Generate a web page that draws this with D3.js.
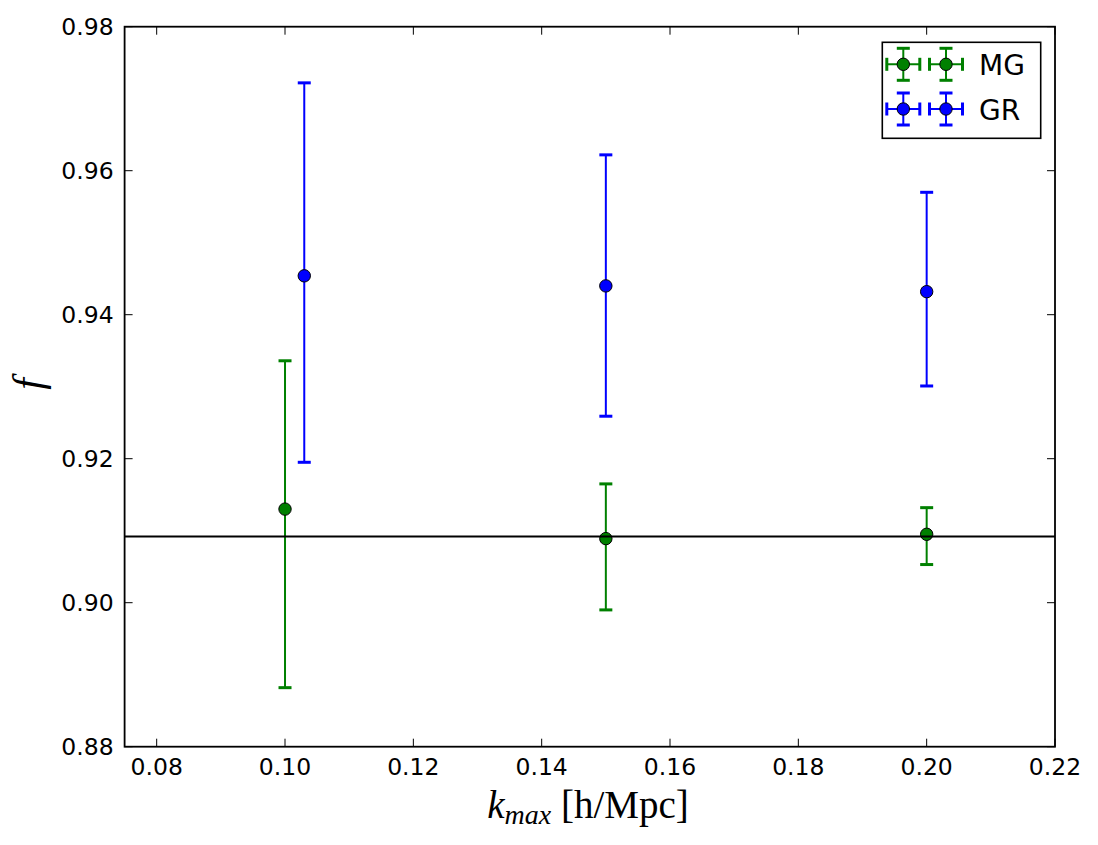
<!DOCTYPE html>
<html>
<head>
<meta charset="utf-8">
<script src="https://cdn.jsdelivr.net/npm/d3@7"></script>
<style>
  body { margin: 0; background: #fff; }
  svg { display: block; }
  .tick-label { font-family: "DejaVu Sans", sans-serif; font-size: 23.5px; fill: #000; }
</style>
</head>
<body>
<div id="main"></div>
<script>

var width = 1098,
    height = 845;

// data
var kmax_mg = [0.10, 0.15, 0.20];
var f_mg    = [0.9130, 0.9089, 0.9095];
var lo_mg   = [0.8882, 0.8990, 0.9053];
var hi_mg   = [0.9336, 0.9165, 0.9132];

var kmax_gr = [0.103, 0.15, 0.20];
var f_gr    = [0.9454, 0.9440, 0.9432];
var lo_gr   = [0.9195, 0.9259, 0.9301];
var hi_gr   = [0.9722, 0.9622, 0.9570];

var f_fid = 0.9092;

var xTicks = [0.08, 0.10, 0.12, 0.14, 0.16, 0.18, 0.20, 0.22];
var yTicks = [0.88, 0.90, 0.92, 0.94, 0.96, 0.98];

var series = [
    { name: "MG", color: "#008000", k: kmax_mg, f: f_mg, lo: lo_mg, hi: hi_mg },
    { name: "GR", color: "#0000ff", k: kmax_gr, f: f_gr, lo: lo_gr, hi: hi_gr }
];

// plot box (note: "top" is a reserved window prop, so prefix these)
var pLeft = 124.6, pRight = 1055, pTop = 26.7, pBottom = 746.7;

var x = d3.scaleLinear().domain([0.075, 0.22]).range([pLeft, pRight]);
var y = d3.scaleLinear().domain([0.88, 0.98]).range([pBottom, pTop]);

var svg = d3.select("div#main").append("svg")
    .attr("width", width)
    .attr("height", height);

var TICK = 8, CAP = 6.5, R = 6.2;

// error bars + markers
series.forEach(function(s) {
    var pts = s.k.map(function(k, i) { return { k: k, f: s.f[i], lo: s.lo[i], hi: s.hi[i] }; });
    var g = svg.append("g");

    g.selectAll(".bar").data(pts).enter().append("line")
        .attr("x1", function(d) { return x(d.k); })
        .attr("x2", function(d) { return x(d.k); })
        .attr("y1", function(d) { return y(d.lo); })
        .attr("y2", function(d) { return y(d.hi); })
        .attr("stroke", s.color)
        .attr("stroke-width", 2);

    ["lo", "hi"].forEach(function(key) {
        g.selectAll(".cap-" + key).data(pts).enter().append("line")
            .attr("x1", function(d) { return x(d.k) - CAP; })
            .attr("x2", function(d) { return x(d.k) + CAP; })
            .attr("y1", function(d) { return y(d[key]); })
            .attr("y2", function(d) { return y(d[key]); })
            .attr("stroke", s.color)
            .attr("stroke-width", 3);
    });

    g.selectAll("circle").data(pts).enter().append("circle")
        .attr("cx", function(d) { return x(d.k); })
        .attr("cy", function(d) { return y(d.f); })
        .attr("r", R)
        .attr("fill", s.color)
        .attr("stroke", "#000")
        .attr("stroke-width", 1);
});

// fiducial line
svg.append("line")
    .attr("x1", pLeft).attr("x2", pRight)
    .attr("y1", y(f_fid)).attr("y2", y(f_fid))
    .attr("stroke", "#000")
    .attr("stroke-width", 2);

// ticks, inward on all sides
var ax = svg.append("g");
xTicks.forEach(function(t) {
    ax.append("line").attr("x1", x(t)).attr("x2", x(t)).attr("y1", pBottom).attr("y2", pBottom - TICK)
        .attr("stroke", "#000").attr("stroke-width", 1);
    ax.append("line").attr("x1", x(t)).attr("x2", x(t)).attr("y1", pTop).attr("y2", pTop + TICK)
        .attr("stroke", "#000").attr("stroke-width", 1);
    ax.append("text").attr("class", "tick-label")
        .attr("x", x(t)).attr("y", pBottom + 28.5)
        .attr("text-anchor", "middle")
        .text(d3.format(".2f")(t));
});
yTicks.forEach(function(t) {
    ax.append("line").attr("x1", pLeft).attr("x2", pLeft + TICK).attr("y1", y(t)).attr("y2", y(t))
        .attr("stroke", "#000").attr("stroke-width", 1);
    ax.append("line").attr("x1", pRight).attr("x2", pRight - TICK).attr("y1", y(t)).attr("y2", y(t))
        .attr("stroke", "#000").attr("stroke-width", 1);
    ax.append("text").attr("class", "tick-label")
        .attr("x", pLeft - 11).attr("y", y(t) + 8.3)
        .attr("text-anchor", "end")
        .text(d3.format(".2f")(t));
});

// frame
svg.append("rect")
    .attr("x", pLeft).attr("y", pTop)
    .attr("width", pRight - pLeft).attr("height", pBottom - pTop)
    .attr("fill", "none")
    .attr("stroke", "#000")
    .attr("stroke-width", 1.8);

// axis labels
var xl = svg.append("text")
    .attr("x", 588).attr("y", 818)
    .attr("text-anchor", "middle")
    .attr("font-family", "'Liberation Serif', 'DejaVu Serif', serif")
    .attr("font-size", 39);
xl.append("tspan").attr("font-style", "italic").text("k");
xl.append("tspan").attr("font-style", "italic").attr("font-size", 28).attr("dy", 6).text("max");
xl.append("tspan").attr("dy", -6).text(" [h/Mpc]");

svg.append("text")
    .attr("transform", "translate(42,384) rotate(-90)")
    .attr("text-anchor", "middle")
    .attr("font-family", "'Liberation Serif', 'DejaVu Serif', serif")
    .attr("font-style", "italic")
    .attr("font-size", 42)
    .text("f");

// legend
var lg = svg.append("g");
lg.append("rect")
    .attr("x", 882.3).attr("y", 42.3)
    .attr("width", 158.4).attr("height", 96)
    .attr("fill", "#fff")
    .attr("stroke", "#000")
    .attr("stroke-width", 1.6);

series.forEach(function(s, i) {
    var cy = 64.3 + i * 44.7;
    [903.3, 946].forEach(function(cx) {
        var h = lg.append("g");
        h.append("line").attr("x1", cx - 16.5).attr("x2", cx + 16.5).attr("y1", cy).attr("y2", cy)
            .attr("stroke", s.color).attr("stroke-width", 2);
        h.append("line").attr("x1", cx).attr("x2", cx).attr("y1", cy - 16).attr("y2", cy + 16)
            .attr("stroke", s.color).attr("stroke-width", 2);
        [-1, 1].forEach(function(sg) {
            h.append("line").attr("x1", cx + sg * 16.5).attr("x2", cx + sg * 16.5)
                .attr("y1", cy - CAP).attr("y2", cy + CAP)
                .attr("stroke", s.color).attr("stroke-width", 3);
            h.append("line").attr("x1", cx - CAP).attr("x2", cx + CAP)
                .attr("y1", cy + sg * 16).attr("y2", cy + sg * 16)
                .attr("stroke", s.color).attr("stroke-width", 3);
        });
        h.append("circle").attr("cx", cx).attr("cy", cy).attr("r", R)
            .attr("fill", s.color).attr("stroke", "#000").attr("stroke-width", 1);
    });
    lg.append("text")
        .attr("x", 979).attr("y", cy + 10.5)
        .attr("font-family", "'DejaVu Sans', sans-serif")
        .attr("font-size", 28)
        .text(s.name);
});

</script>
</body>
</html>
